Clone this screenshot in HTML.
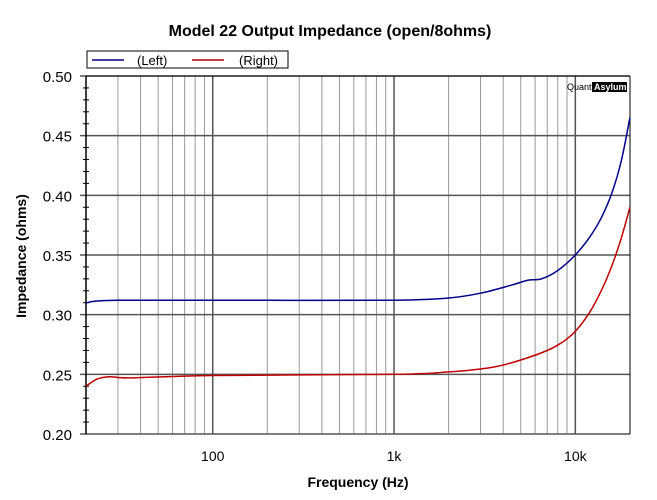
<!DOCTYPE html><html><head><style>body{margin:0;background:#fff}svg{display:block;font-family:"Liberation Sans",Arial,sans-serif}</style></head><body>
<svg id="s" width="657" height="500" xmlns="http://www.w3.org/2000/svg">
<text x="330" y="36" text-anchor="middle" font-size="16" font-weight="bold">Model 22 Output Impedance (open/8ohms)</text>
<rect x="87" y="51" width="201" height="17" fill="#fff" stroke="#000"/>
<line x1="92" y1="60" x2="124" y2="60" stroke="#00008b" stroke-width="1.5"/>
<text x="137" y="65" font-size="13">(Left)</text>
<line x1="192" y1="60" x2="224" y2="60" stroke="#b00000" stroke-width="1.5"/>
<text x="239" y="65" font-size="13">(Right)</text>
<g id="grid"></g>
<text x="567" y="90" font-size="9" fill="#000">Quant</text><rect x="592" y="82" width="35" height="10" fill="#000"/><text x="594" y="90" font-size="9" fill="#fff" font-weight="bold">Asylum</text>
<text transform="translate(26,256) rotate(-90)" text-anchor="middle" font-size="14" font-weight="bold">Impedance (ohms)</text>
<text x="358" y="487" text-anchor="middle" font-size="14" font-weight="bold">Frequency (Hz)</text>
</svg>
<script>
const s=document.getElementById('grid'),L=86,R=630,T=76,B=434,D=181.3;
const X=f=>L+Math.log10(f/20)*D, Y=v=>B-(v-0.2)/0.3*(B-T);
let h='';
for(let d=10;d<=10000;d*=10)for(let k=1;k<10;k++){const f=d*k;if(f<=20||f>=20000)continue;const x=X(f);h+=`<line x1="${x}" y1="${T}" x2="${x}" y2="${B}" stroke="${k==1?'#555':'#999'}" stroke-width="${k==1?1.5:1}"/>`;}
for(let i=0;i<=30;i++){const v=0.2+i*0.01,y=Y(v);if(i%5==0){h+=`<line x1="80" y1="${y}" x2="${R}" y2="${y}" stroke="#555" stroke-width="1.5"/><text x="72" y="${y+6}" text-anchor="end" font-size="15">${v.toFixed(2)}</text>`;}else h+=`<line x1="83" y1="${y}" x2="89" y2="${y}" stroke="#000"/>`;}
h+=`<line x1="${L}" y1="${T}" x2="${L}" y2="${B}" stroke="#000" stroke-width="1.5"/><line x1="${L}" y1="${T}" x2="${R}" y2="${T}" stroke="#000"/><line x1="${R}" y1="${T}" x2="${R}" y2="${B}" stroke="#000"/>`;
[[100,'100'],[1000,'1k'],[10000,'10k']].forEach(([f,t])=>h+=`<text x="${X(f)}" y="461" text-anchor="middle" font-size="14">${t}</text>`);
function curve(pts,c){
 const P=pts.map(([f,v])=>[X(f),Y(v)]);
 let d=`M${P[0][0].toFixed(1)},${P[0][1].toFixed(1)}`;
 for(let i=0;i<P.length-1;i++){const p0=P[Math.max(i-1,0)],p1=P[i],p2=P[i+1],p3=P[Math.min(i+2,P.length-1)];
  const c1=[p1[0]+(p2[0]-p0[0])/6,p1[1]+(p2[1]-p0[1])/6],c2=[p2[0]-(p3[0]-p1[0])/6,p2[1]-(p3[1]-p1[1])/6];
  d+=` C${c1[0].toFixed(1)},${c1[1].toFixed(1)} ${c2[0].toFixed(1)},${c2[1].toFixed(1)} ${p2[0].toFixed(1)},${p2[1].toFixed(1)}`;}
 return `<path d="${d}" fill="none" stroke="${c}" stroke-width="1.5"/>`;}
h+=curve([[20,0.31],[30,0.312],[200,0.312],[1000,0.312],[2000,0.314],[3000,0.318],[4500,0.325],[5500,0.329],[6500,0.33],[8000,0.337],[10000,0.35],[12000,0.365],[14000,0.382],[16000,0.403],[18000,0.43],[20000,0.465]],'#00008b');
h+=curve([[20,0.24],[23,0.246],[27,0.248],[35,0.247],[100,0.249],[1000,0.25],[2000,0.252],[3500,0.256],[5000,0.262],[7000,0.27],[8500,0.277],[10000,0.286],[12000,0.302],[14000,0.321],[16000,0.342],[18000,0.365],[20000,0.39]],'#c00000');
s.innerHTML=h;
</script></body></html>
